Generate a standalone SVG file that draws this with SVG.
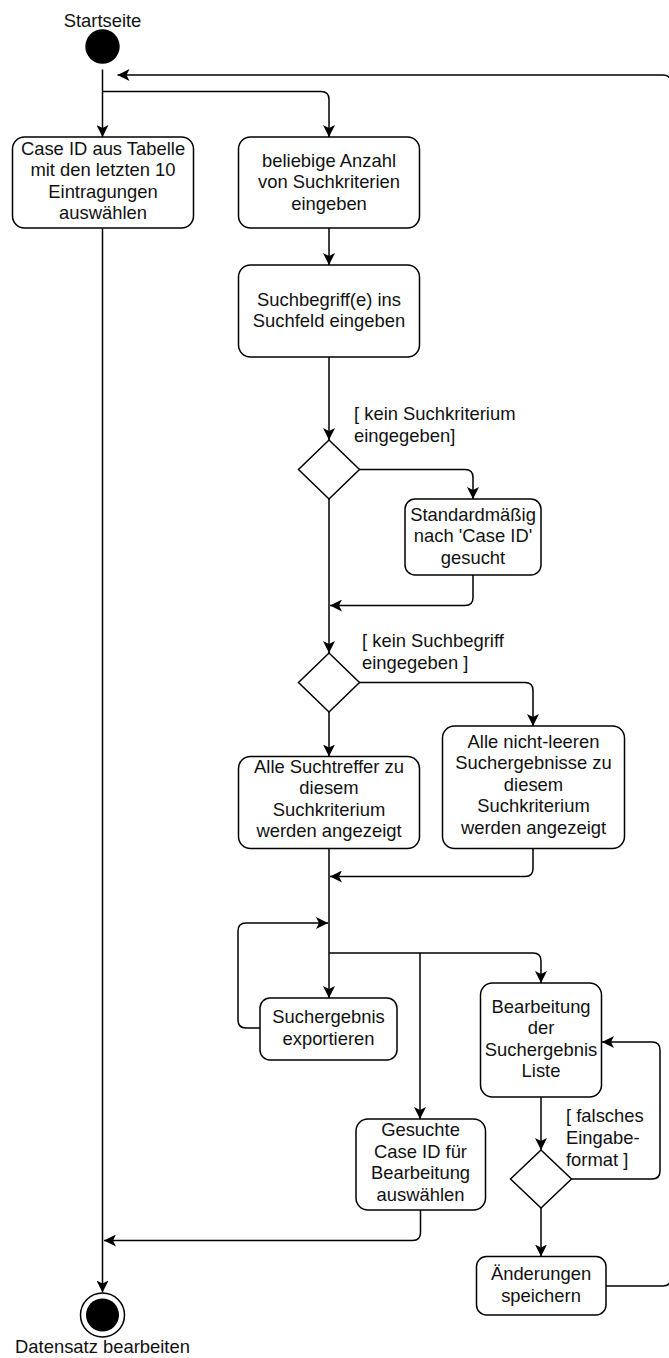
<svg xmlns="http://www.w3.org/2000/svg" width="669" height="1358" viewBox="0 0 669 1358">
  <style>
    .node { fill: #ffffff; stroke: #000000; stroke-width: 1.5; }
    .dot { fill: #000000; stroke: none; }
    .ring { fill: #ffffff; stroke: #000000; stroke-width: 1.5; }
    .edge { fill: none; stroke: #000000; stroke-width: 1.5; marker-end: url(#arrow); }
    text { font-family: "Liberation Sans", Arial, sans-serif; font-size: 18.4px; fill: #111111; }
    .c { text-anchor: middle; }
  </style>
  <defs>
    <marker id="arrow" viewBox="0 0 12 12" refX="12" refY="6" markerWidth="12" markerHeight="12" markerUnits="userSpaceOnUse" orient="auto">
      <path d="M0,0 L12,6 L0,12 L3,6 Z" fill="#000000"/>
    </marker>
  </defs>
  <rect width="669" height="1358" fill="#ffffff"/>

  <g id="connectors">
    <path class="edge" d="M102.5,69.5 V137"/>
    <path class="edge" d="M102.5,91.5 H321 Q329,91.5 329,99.5 V137"/>
    <path class="edge" d="M329,228 V265"/>
    <path class="edge" d="M329,357 V440"/>
    <path class="edge" d="M359.5,469.5 H465 Q473,469.5 473,477.5 V499"/>
    <path class="edge" d="M473,575 V597.5 Q473,605.5 465,605.5 H330"/>
    <path class="edge" d="M329,499 V653"/>
    <path class="edge" d="M359.5,682.5 H525 Q533,682.5 533,690.5 V726"/>
    <path class="edge" d="M329,712 V756.5"/>
    <path class="edge" d="M533,848.5 V868.5 Q533,876.5 525,876.5 H330"/>
    <path class="edge" d="M329,848.5 V998"/>
    <path class="edge" d="M260,1028 H246 Q238,1028 238,1020 V931 Q238,923 246,923 H328"/>
    <path class="edge" d="M329,953 H533 Q541,953 541,961 V983"/>
    <path class="edge" d="M420,953 V1119"/>
    <path class="edge" d="M541,1097 V1150"/>
    <path class="edge" d="M571.5,1179 H652 Q660,1179 660,1171 V1050 Q660,1042 652,1042 H602"/>
    <path class="edge" d="M541,1208 V1256.5"/>
    <path class="edge" d="M606,1286 H663 Q671,1286 671,1278 V83 Q671,75 663,75 H117.5"/>
    <path class="edge" d="M102.5,228.5 V1292.5"/>
    <path class="edge" d="M420.5,1210 V1232.5 Q420.5,1240.5 412.5,1240.5 H104"/>
  </g>

  <g id="start">
    <circle class="dot" cx="102.5" cy="46.5" r="17.2"/>
    <text class="c" x="102.5" y="26.5">Startseite</text>
  </g>

  <g id="case-id-tabelle">
    <rect class="node" x="12.5" y="137" width="181" height="91" rx="12"/>
    <text class="c" x="103" y="154.5">Case ID aus Tabelle</text>
    <text class="c" x="103" y="176">mit den letzten 10</text>
    <text class="c" x="103" y="197.5">Eintragungen</text>
    <text class="c" x="103" y="219">auswählen</text>
  </g>

  <g id="suchkriterien">
    <rect class="node" x="238.5" y="137" width="181" height="91" rx="12"/>
    <text class="c" x="329" y="166.5">beliebige Anzahl</text>
    <text class="c" x="329" y="188">von Suchkriterien</text>
    <text class="c" x="329" y="209.5">eingeben</text>
  </g>

  <g id="suchbegriff">
    <rect class="node" x="238.5" y="265" width="181" height="92" rx="12"/>
    <text class="c" x="329" y="305.5">Suchbegriff(e) ins</text>
    <text class="c" x="329" y="327">Suchfeld eingeben</text>
  </g>

  <g id="decision-kriterium">
    <polygon class="node" points="329,440 359.5,469.5 329,499 298.5,469.5"/>
    <text x="354" y="420">[ kein Suchkriterium</text>
    <text x="354" y="441.5">eingegeben]</text>
  </g>

  <g id="standard-case-id">
    <rect class="node" x="405" y="499" width="136" height="76" rx="10"/>
    <text class="c" x="473" y="520.5">Standardmäßig</text>
    <text class="c" x="473" y="542">nach 'Case ID'</text>
    <text class="c" x="473" y="563.5">gesucht</text>
  </g>

  <g id="decision-begriff">
    <polygon class="node" points="329,653 359.5,682.5 329,712 298.5,682.5"/>
    <text x="362" y="646.5">[ kein Suchbegriff</text>
    <text x="362" y="668.5">eingegeben ]</text>
  </g>

  <g id="alle-suchtreffer">
    <rect class="node" x="238.5" y="756.5" width="181" height="92" rx="12"/>
    <text class="c" x="329" y="772.5">Alle Suchtreffer zu</text>
    <text class="c" x="329" y="794">diesem</text>
    <text class="c" x="329" y="815.5">Suchkriterium</text>
    <text class="c" x="329" y="837">werden angezeigt</text>
  </g>

  <g id="nicht-leere-ergebnisse">
    <rect class="node" x="442.5" y="726" width="182" height="122.5" rx="12"/>
    <text class="c" x="533.5" y="747.5">Alle nicht-leeren</text>
    <text class="c" x="533.5" y="769">Suchergebnisse zu</text>
    <text class="c" x="533.5" y="790.5">diesem</text>
    <text class="c" x="533.5" y="812">Suchkriterium</text>
    <text class="c" x="533.5" y="833.5">werden angezeigt</text>
  </g>

  <g id="exportieren">
    <rect class="node" x="260" y="998" width="137" height="62" rx="10"/>
    <text class="c" x="328.5" y="1022.5">Suchergebnis</text>
    <text class="c" x="328.5" y="1044.5">exportieren</text>
  </g>

  <g id="bearbeitung-liste">
    <rect class="node" x="480.5" y="983" width="121" height="114" rx="12"/>
    <text class="c" x="541" y="1012.5">Bearbeitung</text>
    <text class="c" x="541" y="1034">der</text>
    <text class="c" x="541" y="1055.5">Suchergebnis</text>
    <text class="c" x="541" y="1077">Liste</text>
  </g>

  <g id="decision-format">
    <polygon class="node" points="541,1150 571.5,1179 541,1208 510.5,1179"/>
    <text x="566" y="1121.5">[ falsches</text>
    <text x="566" y="1143.5">Eingabe-</text>
    <text x="566" y="1165.5">format ]</text>
  </g>

  <g id="gesuchte-case-id">
    <rect class="node" x="356" y="1119" width="129.5" height="91" rx="12"/>
    <text class="c" x="420.5" y="1136">Gesuchte</text>
    <text class="c" x="420.5" y="1157.5">Case ID für</text>
    <text class="c" x="420.5" y="1179">Bearbeitung</text>
    <text class="c" x="420.5" y="1200.5">auswählen</text>
  </g>

  <g id="aenderungen-speichern">
    <rect class="node" x="476.5" y="1256.5" width="129.5" height="58.5" rx="10"/>
    <text class="c" x="541" y="1280">Änderungen</text>
    <text class="c" x="541" y="1301.5">speichern</text>
  </g>

  <g id="end">
    <circle class="ring" cx="102.5" cy="1315" r="22"/>
    <circle class="dot" cx="102.5" cy="1315" r="16.5"/>
    <text class="c" x="102.5" y="1353">Datensatz bearbeiten</text>
  </g>
</svg>
